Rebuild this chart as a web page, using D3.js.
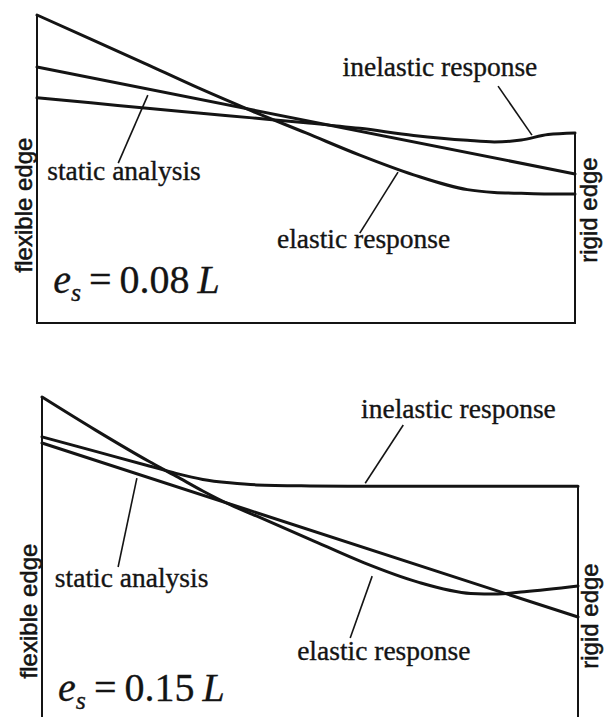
<!DOCTYPE html>
<html>
<head>
<meta charset="utf-8">
<script src="https://cdnjs.cloudflare.com/ajax/libs/d3/7.8.5/d3.min.js"></script>
<style>
  body { margin: 0; background: #fff; }
  svg { display: block; background: #fff; }
  .curve { fill: none; stroke: #141414; stroke-width: 3; stroke-linejoin: round; stroke-linecap: round; }
  .frame { fill: none; stroke: #141414; stroke-width: 2; }
  .leader { stroke: #141414; stroke-width: 1.6; }
  .label { font-family: "Liberation Serif", "Times New Roman", serif; font-size: 27.5px; fill: #141414; stroke: #141414; stroke-width: 0.35; }
  .edge { font-family: "Liberation Sans", Arial, sans-serif; font-size: 24px; fill: #141414; stroke: #141414; stroke-width: 0.5; }
  .es { font-family: "Liberation Serif", "Times New Roman", serif; font-size: 40px; fill: #141414; stroke: #141414; stroke-width: 0.3; }
</style>
</head>
<body>
<svg width="604" height="717"></svg>
<script>
// position along the wall: 0 = flexible edge, 1 = rigid edge
var topX = [0, 0.1, 0.2, 0.3, 0.4, 0.5, 0.6, 0.7, 0.8, 0.85, 0.9, 0.95, 1];
var topElastic = [1.0, 0.922, 0.843, 0.763, 0.688, 0.617, 0.545, 0.481, 0.433, 0.424, 0.421, 0.419, 0.419];
var topInelastic = [0.731, 0.715, 0.698, 0.682, 0.666, 0.650, 0.632, 0.609, 0.593, 0.588, 0.594, 0.612, 0.617];
var topStaticX = [0, 1];
var topStatic = [0.831, 0.484];

var botX = [0, 0.1, 0.2, 0.25, 0.3, 0.35, 0.4, 0.5, 0.6, 0.7, 0.8, 0.85, 0.9, 1];
var botElastic = [1.0, 0.902, 0.809, 0.766, 0.722, 0.682, 0.648, 0.579, 0.510, 0.453, 0.419, 0.417, 0.424, 0.441];
var botInelastic = [0.882, 0.839, 0.796, 0.774, 0.756, 0.746, 0.740, 0.737, 0.736, 0.736, 0.736, 0.736, 0.736, 0.736];
var botStaticX = [0, 1];
var botStatic = [0.864, 0.349];

var svg = d3.select("svg");

drawPanel({
    xRange: [37, 575], yRange: [323, 15],
    series: [[topX, topElastic], [topX, topInelastic], [topStaticX, topStatic]],
    es: "0.08",
    // label text, anchor point [x, value], leader [x1, v1, x2, v2]
    labels: [
        {text: "inelastic response", at: [0.749, 0.802], anchor: "middle", leader: [0.857, 0.769, 0.92, 0.61]},
        {text: "static analysis", at: [0.019, 0.464], anchor: "start", leader: [0.206, 0.740, 0.151, 0.519]},
        {text: "elastic response", at: [0.446, 0.244], anchor: "start", leader: [0.671, 0.490, 0.600, 0.292]}
    ],
    esAt: [0.030, 0.097],
    flexible: [32, 205], rigid: [597, 210]
});

drawPanel({
    xRange: [42, 578], yRange: [735, 397],
    series: [[botX, botElastic], [botX, botInelastic], [botStaticX, botStatic]],
    es: "0.15",
    labels: [
        {text: "inelastic response", at: [0.777, 0.938], anchor: "middle", leader: [0.674, 0.917, 0.603, 0.745]},
        {text: "static analysis", at: [0.024, 0.438], anchor: "start", leader: [0.177, 0.760, 0.142, 0.497]},
        {text: "elastic response", at: [0.476, 0.222], anchor: "start", leader: [0.616, 0.470, 0.575, 0.287]}
    ],
    esAt: [0.030, 0.101],
    flexible: [37, 611], rigid: [598, 616]
});

function drawPanel(p) {
    var x = d3.scaleLinear().domain([0, 1]).range(p.xRange),
        y = d3.scaleLinear().domain([0, 1]).range(p.yRange);

    var g = svg.append("g");

    // frame: the edge lines go up to where the curves meet them
    var leftTop = d3.max(p.series, function(s) { return s[1][0]; }),
        rightTop = d3.max(p.series, function(s) { return s[1][s[1].length - 1]; });
    g.append("path")
        .attr("class", "frame")
        .attr("d", "M" + x(0) + "," + y(leftTop) + "V" + y(0) + "H" + x(1) + "V" + y(rightTop));

    var line = d3.line()
        .x(function(d) { return x(d[0]); })
        .y(function(d) { return y(d[1]); })
        .curve(d3.curveMonotoneX);

    p.series.forEach(function(s) {
        g.append("path")
            .attr("class", "curve")
            .attr("d", line(d3.zip(s[0], s[1])));
    });

    // leader lines and their labels
    p.labels.forEach(function(l) {
        g.append("line")
            .attr("class", "leader")
            .attr("x1", x(l.leader[0])).attr("y1", y(l.leader[1]))
            .attr("x2", x(l.leader[2])).attr("y2", y(l.leader[3]));
        g.append("text")
            .attr("class", "label")
            .attr("x", x(l.at[0])).attr("y", y(l.at[1]))
            .attr("text-anchor", l.anchor)
            .text(l.text);
    });

    // e_s = ... L
    var t = g.append("text")
        .attr("class", "es")
        .attr("x", x(p.esAt[0])).attr("y", y(p.esAt[1]));
    t.append("tspan").style("font-style", "italic").text("e");
    t.append("tspan").style("font-style", "italic").attr("font-size", 26).attr("dy", 8).text("s");
    t.append("tspan").attr("dy", -8).attr("dx", 8).text("=");
    t.append("tspan").attr("dx", 8).text(p.es);
    t.append("tspan").attr("dx", 8).style("font-style", "italic").text("L");

    g.append("text")
        .attr("class", "edge")
        .attr("text-anchor", "middle")
        .attr("transform", "translate(" + p.flexible[0] + "," + p.flexible[1] + ") rotate(-90)")
        .text("flexible edge");
    g.append("text")
        .attr("class", "edge")
        .attr("text-anchor", "middle")
        .attr("transform", "translate(" + p.rigid[0] + "," + p.rigid[1] + ") rotate(-90)")
        .text("rigid edge");
}
</script>
</body>
</html>
